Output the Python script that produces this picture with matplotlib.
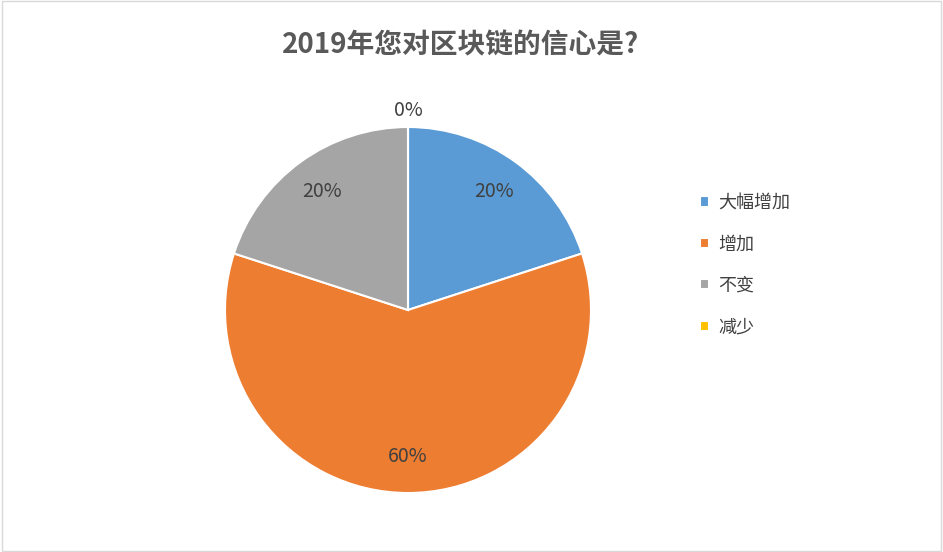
import matplotlib
matplotlib.use("Agg")
import matplotlib.pyplot as plt
import numpy as np
from matplotlib.patches import Rectangle

plt.rcParams["font.family"] = ["Noto Sans CJK SC", "DejaVu Sans"]

title = "2019年您对区块链的信心是?"
categories = ["大幅增加", "增加", "不变", "减少"]
values = [20, 60, 20, 0]
colors = ["#5B9BD5", "#ED7D31", "#A5A5A5", "#FFC000"]

fig = plt.figure(figsize=(9.43, 5.52), dpi=100)
fig.patches.append(Rectangle((0.002, 0.002), 0.996, 0.996, transform=fig.transFigure,
                             fill=False, edgecolor="#D9D9D9", linewidth=1))
R = 183 / 552 * 5.52  # inches
cx, cy = 408 / 943, 1 - 310 / 552
w, h = 2 * R / 9.43, 2 * R / 5.52
ax = fig.add_axes([cx - w / 2, cy - h / 2, w, h])
wedges, _ = ax.pie(values, colors=colors, startangle=90, counterclock=False,
                   wedgeprops=dict(edgecolor="white", linewidth=1.5))
ax.set_xlim(-1, 1); ax.set_ylim(-1, 1); ax.set_aspect("equal")
ax.axis("off")

total = sum(values)
cum = 0
for v in values:
    mid = 90 - (cum + v / 2) / total * 360
    cum += v
    d = 0.80 if v > 0 else 1.09
    ax.text(d * np.cos(np.radians(mid)), d * np.sin(np.radians(mid)), f"{v}%",
            ha="center", va="center", fontsize=14, color="#404040")

fig.text(0.488, 1 - 45 / 552, title, ha="center", va="center", fontsize=20,
         fontweight="bold", color="#595959")

leg = fig.legend(wedges, categories, loc="center left", bbox_to_anchor=(0.725, 1 - 265 / 552),
                 frameon=False, fontsize=13, handlelength=0.5, handleheight=0.5,
                 labelspacing=1.3, handletextpad=0.5)
for t in leg.get_texts():
    t.set_color("#404040")
fig.savefig("out.png", dpi=100)
